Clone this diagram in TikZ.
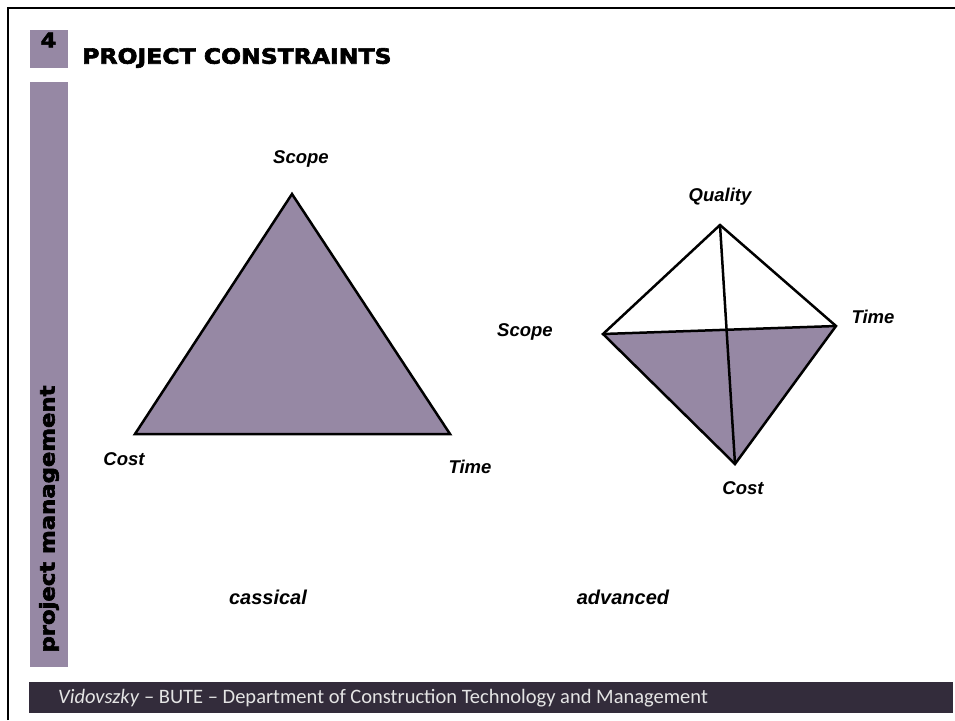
\documentclass[tikz,border=0pt]{standalone}
\usepackage{fontspec}
\setmainfont{Liberation Sans}
\newfontfamily\heavyfam[FakeStretch=1.12,FakeBold=3]{DejaVu Sans}
\newfontfamily\footfam{Carlito}
\definecolor{lav}{RGB}{150,136,164}
\definecolor{darkbar}{RGB}{51,44,59}
\definecolor{foottext}{RGB}{228,228,228}
\tikzset{
  lbl/.style={font=\fontsize{18.5}{22}\selectfont\bfseries\itshape, inner sep=0pt},
  captxt/.style={font=\fontsize{20}{24}\selectfont\bfseries\itshape, inner sep=0pt},
  edgeline/.style={line width=2.5pt, line join=miter, draw=black},
}
\begin{document}
\begin{tikzpicture}[x=1pt,y=-1pt]
\useasboundingbox (0,0) rectangle (955,720);
\fill[white] (0,0) rectangle (955,720);
% frame
\draw[line width=2.5pt] (8,720) -- (8,8) -- (956,8);
% number box and sidebar
\fill[lav] (30,30) rectangle (68,68);
\node[font=\fontsize{20}{22}\selectfont\heavyfam\bfseries, inner sep=0pt] (num) at (48.5,40) {4};
\fill[lav] (30,82) rectangle (68,667);
\node[font=\fontsize{20.3}{24}\selectfont\heavyfam\bfseries, inner sep=0pt, rotate=90] (side) at (49,519) {project management};
% title
\node[font=\fontsize{21}{24}\selectfont\heavyfam\bfseries, inner sep=0pt, anchor=west] (title) at (82,58) {PROJECT CONSTRAINTS};
% footer
\fill[darkbar] (29,682) rectangle (953,713);
\node[font=\fontsize{20.5}{22}\selectfont\footfam, text=foottext, inner sep=0pt, anchor=west] (foot) at (58,698) {\textit{Vidovszky} – BUTE – Department of Construction Technology and Management};
% classical triangle
\coordinate (tS) at (292,194);
\coordinate (tC) at (135,434);
\coordinate (tT) at (450,434);
\filldraw[fill=lav, edgeline] (tS) -- (tT) -- (tC) -- cycle;
\node[lbl] (lS) at (301,159) {Scope};
\node[lbl] (lC) at (124,459) {Cost};
\node[lbl] (lT) at (470,467) {Time};
% advanced diamond
\coordinate (dQ) at (720,225);
\coordinate (dS) at (603,334);
\coordinate (dT) at (836,326);
\coordinate (dC) at (735,464);
\fill[lav] (dS) -- (dT) -- (dC) -- cycle;
\draw[edgeline] (dS) -- (dQ) -- (dT) -- (dC) -- cycle;
\draw[edgeline] (dS) -- (dT);
\draw[edgeline] (dQ) -- (dC);
\node[lbl] (lQ) at (720,197) {Quality};
\node[lbl] (lS2) at (525,332) {Scope};
\node[lbl] (lT2) at (873,317) {Time};
\node[lbl] (lC2) at (743,488) {Cost};
% captions
\node[captxt] (c1) at (268,597) {cassical};
\node[captxt] (c2) at (623,597) {advanced};
\end{tikzpicture}
\end{document}
